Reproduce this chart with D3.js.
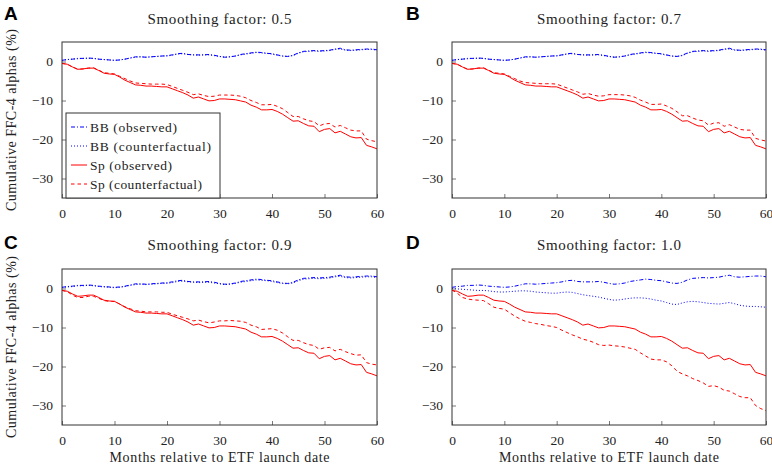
<!DOCTYPE html>
<html><head><meta charset="utf-8">
<script src="https://cdn.jsdelivr.net/npm/d3@7"></script>
<style>body{margin:0;background:#fff}svg{display:block}</style>
</head><body>
<svg id="c" width="772" height="467"></svg>
<script>
const months = d3.range(0, 61);
const xTicks = [0, 10, 20, 30, 40, 50, 60];
const yTicks = [0, -10, -20, -30];
const panelLetters = ["A", "B", "C", "D"];
const smoothing = ["0.5", "0.7", "0.9", "1.0"];
const seriesNames = ["BB (observed)", "BB (counterfactual)", "Sp (observed)", "Sp (counterfactual)"];

const bbObserved = [0.3,0.5,0.6,0.8,0.8,0.9,0.8,0.6,0.5,0.4,0.3,0.4,0.6,0.9,1.2,1.2,1.1,1.2,1.3,1.4,1.5,1.7,2.0,2.1,1.8,1.7,1.7,1.7,1.8,1.6,1.3,1.1,1.2,1.4,1.8,2.0,2.2,2.4,2.3,2.1,2.0,1.7,1.4,1.3,1.6,2.2,2.6,2.7,2.8,2.7,2.8,2.9,3.2,3.4,3.0,2.9,3.0,3.1,3.2,3.2,3.0];
const bbCfA = [0.3,0.5,0.6,0.7,0.8,0.8,0.8,0.6,0.5,0.4,0.3,0.4,0.6,0.9,1.1,1.2,1.1,1.2,1.3,1.4,1.4,1.6,1.9,2.0,1.8,1.7,1.6,1.7,1.7,1.5,1.3,1.1,1.2,1.4,1.7,1.9,2.1,2.3,2.2,2.1,1.9,1.6,1.4,1.3,1.5,2.1,2.5,2.6,2.7,2.6,2.7,2.8,3.1,3.2,2.9,2.8,2.9,3.0,3.1,3.1,2.9];
const bbCfB = [0.3,0.5,0.6,0.7,0.8,0.8,0.8,0.6,0.5,0.4,0.3,0.4,0.6,0.9,1.1,1.2,1.1,1.2,1.3,1.4,1.4,1.6,1.9,2.0,1.8,1.7,1.6,1.7,1.7,1.5,1.3,1.1,1.2,1.4,1.7,1.9,2.1,2.3,2.2,2.1,1.9,1.6,1.4,1.3,1.5,2.1,2.5,2.6,2.7,2.6,2.7,2.8,3.1,3.2,2.9,2.8,2.9,3.0,3.1,3.1,2.9];
const bbCfC = [0.3,0.4,0.5,0.7,0.7,0.8,0.7,0.5,0.4,0.3,0.2,0.3,0.5,0.8,1.0,1.1,1.0,1.1,1.2,1.3,1.3,1.5,1.8,1.9,1.7,1.6,1.5,1.6,1.6,1.4,1.2,1.0,1.1,1.3,1.6,1.8,2.0,2.2,2.1,2.0,1.8,1.5,1.3,1.2,1.4,2.0,2.4,2.5,2.6,2.5,2.6,2.7,3.0,3.1,2.8,2.7,2.8,2.9,3.0,3.0,2.8];
const bbCfD = [0.0,-0.1,-0.2,-0.3,-0.4,-0.5,-0.5,-0.6,-0.8,-0.9,-0.9,-0.8,-0.7,-0.6,-0.6,-0.7,-0.9,-1.0,-1.1,-1.2,-1.2,-1.0,-0.9,-1.0,-1.3,-1.6,-1.8,-2.0,-2.2,-2.5,-2.8,-3.0,-2.9,-2.7,-2.5,-2.4,-2.4,-2.5,-2.7,-3.0,-3.2,-3.6,-4.0,-4.1,-3.7,-3.4,-3.3,-3.4,-3.6,-3.8,-3.9,-4.0,-3.8,-3.6,-3.9,-4.3,-4.5,-4.6,-4.6,-4.7,-4.8];

const spObserved = [-0.5,-0.7,-1.4,-2.0,-1.9,-1.7,-1.7,-2.3,-3.0,-3.2,-3.3,-4.0,-4.8,-5.4,-6.0,-6.1,-6.3,-6.3,-6.4,-6.5,-6.5,-7.0,-7.5,-8.0,-8.6,-9.4,-9.1,-9.6,-10.1,-10.0,-9.6,-9.6,-9.7,-9.8,-10.1,-10.4,-11.2,-11.7,-12.4,-12.4,-12.3,-12.8,-13.5,-14.4,-15.3,-15.2,-15.9,-16.5,-16.6,-18.0,-17.4,-17.2,-18.3,-17.9,-18.6,-19.3,-19.6,-19.5,-21.5,-21.9,-22.4];
const spCfA = [-0.5,-0.7,-1.4,-2.0,-1.9,-1.7,-1.6,-2.2,-2.9,-3.0,-3.2,-3.8,-4.4,-5.0,-5.5,-5.6,-5.7,-5.8,-5.8,-5.8,-5.9,-6.4,-6.9,-7.4,-7.9,-8.5,-8.3,-8.7,-9.0,-8.9,-8.6,-8.6,-8.6,-8.7,-8.9,-9.3,-10.0,-10.5,-11.1,-11.1,-11.0,-11.5,-12.1,-13.1,-14.1,-14.1,-14.7,-15.2,-15.4,-16.5,-16.0,-15.9,-16.8,-16.4,-17.0,-17.6,-17.8,-17.8,-19.9,-20.3,-20.6];
const spCfB = [-0.5,-0.7,-1.4,-2.0,-1.9,-1.7,-1.6,-2.2,-2.9,-3.0,-3.2,-3.8,-4.4,-5.0,-5.4,-5.5,-5.6,-5.7,-5.7,-5.7,-5.8,-6.3,-6.8,-7.3,-7.8,-8.4,-8.2,-8.6,-8.9,-8.8,-8.5,-8.5,-8.5,-8.6,-8.8,-9.2,-9.9,-10.4,-11.0,-11.0,-10.9,-11.4,-12.0,-12.9,-13.9,-13.9,-14.5,-15.0,-15.2,-16.3,-15.8,-15.7,-16.6,-16.2,-16.8,-17.4,-17.6,-17.6,-19.7,-20.1,-20.4];
const spCfC = [-0.5,-0.8,-1.7,-2.3,-2.3,-2.0,-2.0,-2.5,-3.1,-3.3,-3.3,-4.0,-4.7,-5.2,-5.7,-5.8,-6.0,-6.0,-6.0,-6.1,-6.1,-6.6,-7.0,-7.4,-7.8,-8.3,-8.1,-8.5,-8.8,-8.6,-8.3,-8.3,-8.2,-8.3,-8.4,-8.7,-9.4,-9.8,-10.5,-10.4,-10.3,-10.7,-11.4,-12.4,-13.3,-13.3,-13.9,-14.4,-14.6,-15.6,-15.2,-15.1,-16.0,-15.6,-16.2,-16.7,-17.1,-17.0,-19.0,-19.4,-19.6];
const spCfD = [-0.4,-1.2,-2.3,-2.7,-2.9,-3.0,-3.1,-3.9,-4.8,-5.1,-5.3,-6.2,-7.1,-7.8,-8.4,-8.7,-9.0,-9.2,-9.5,-9.7,-10.0,-10.7,-11.3,-11.9,-12.4,-13.0,-13.3,-13.8,-14.4,-14.6,-14.5,-14.7,-14.8,-15.0,-15.3,-15.6,-16.5,-17.3,-18.1,-18.3,-18.3,-18.8,-19.8,-21.2,-21.9,-22.4,-23.1,-23.6,-24.2,-25.1,-24.9,-25.3,-26.1,-26.3,-27.0,-27.7,-28.0,-28.0,-30.0,-30.8,-31.3];

const bbCf = [bbCfA, bbCfB, bbCfC, bbCfD];
const spCf = [spCfA, spCfB, spCfC, spCfD];

const styles = [
  {color: "#0000ff", dash: "4,2,1,2"},
  {color: "#0000ff", dash: "1,2"},
  {color: "#ff0000", dash: null},
  {color: "#ff0000", dash: "3.5,3"}
];
const legendWidths = [87, 121, 82, 112];

const svg = d3.select("#c");
const serif = "'Liberation Serif', 'Times New Roman', serif";
const sans = "'Liberation Sans', Arial, sans-serif";

const panels = [
  {x0: 62, x1: 377, y0: 42, y1: 198, titleY: 24, letterX: 4, letterY: 20, ylab: true, xlab: false, legend: true},
  {x0: 452, x1: 766, y0: 42, y1: 198, titleY: 24, letterX: 406, letterY: 20, ylab: false, xlab: false, legend: false},
  {x0: 62, x1: 377, y0: 269, y1: 425, titleY: 250, letterX: 4, letterY: 249, ylab: true, xlab: true, legend: false},
  {x0: 452, x1: 766, y0: 269, y1: 425, titleY: 250, letterX: 406, letterY: 249, ylab: false, xlab: true, legend: false}
];

panels.forEach((p, i) => {
  const x = d3.scaleLinear().domain([0, 60]).range([p.x0, p.x1]);
  const y = d3.scaleLinear().domain([-35, 5]).range([p.y1, p.y0]);
  const g = svg.append("g");

  const data = [bbObserved, bbCf[i], spObserved, spCf[i]];
  const line = d3.line().x((d, j) => x(months[j])).y(d => y(d));

  const clipId = "clip" + i;
  svg.append("clipPath").attr("id", clipId).append("rect")
    .attr("x", p.x0).attr("y", p.y0).attr("width", p.x1 - p.x0).attr("height", p.y1 - p.y0);

  const lg = g.append("g").attr("clip-path", `url(#${clipId})`);
  data.forEach((arr, k) => {
    lg.append("path").datum(arr).attr("d", line)
      .attr("fill", "none").attr("stroke", styles[k].color)
      .attr("stroke-width", 1)
      .attr("stroke-dasharray", styles[k].dash)
      .attr("stroke-linejoin", "round");
  });

  const xa = g.append("g").attr("transform", `translate(0,${p.y1})`)
    .call(d3.axisBottom(x).tickValues(xTicks).tickSizeInner(-4).tickSizeOuter(0).tickPadding(10).tickFormat(d3.format("d")));
  const ya = g.append("g").attr("transform", `translate(${p.x0},0)`)
    .call(d3.axisLeft(y).tickValues(yTicks).tickSizeInner(-4).tickSizeOuter(0).tickPadding(9).tickFormat(d3.format("d")));
  [xa, ya].forEach(a => {
    a.select(".domain").remove();
    a.selectAll(".tick line").attr("stroke", "#555").attr("stroke-width", 0.8);
    a.selectAll(".tick text").attr("font-family", serif).attr("font-size", 13.5).attr("fill", "#222");
  });

  g.append("rect").attr("x", p.x0).attr("y", p.y0).attr("width", p.x1 - p.x0).attr("height", p.y1 - p.y0)
    .attr("fill", "none").attr("stroke", "#333").attr("stroke-width", 1);

  g.append("text").attr("x", (p.x0 + p.x1) / 2).attr("y", p.titleY).attr("text-anchor", "middle")
    .attr("font-family", serif).attr("font-size", 15).attr("fill", "#222")
    .attr("textLength", 144).attr("lengthAdjust", "spacing")
    .text("Smoothing factor: " + smoothing[i]);

  g.append("text").attr("x", p.letterX).attr("y", p.letterY)
    .attr("font-family", sans).attr("font-weight", "bold").attr("font-size", 19).attr("fill", "#000")
    .text(panelLetters[i]);

  if (p.ylab) {
    g.append("text").attr("transform", `translate(16,${(p.y0 + p.y1) / 2}) rotate(-90)`)
      .attr("text-anchor", "middle").attr("font-family", serif).attr("font-size", 14).attr("fill", "#222")
      .attr("textLength", 182).attr("lengthAdjust", "spacing")
      .text("Cumulative FFC-4 alphas (%)");
  }
  if (p.xlab) {
    g.append("text").attr("x", (p.x0 + p.x1) / 2).attr("y", p.y1 + 37).attr("text-anchor", "middle")
      .attr("font-family", serif).attr("font-size", 14).attr("fill", "#222")
      .attr("textLength", 220).attr("lengthAdjust", "spacing")
      .text("Months relative to ETF launch date");
  }
  if (p.legend) {
    const L = g.append("g");
    L.append("rect").attr("x", 66).attr("y", 113).attr("width", 154).attr("height", p.y1 - 113)
      .attr("fill", "#fff").attr("stroke", "#333").attr("stroke-width", 1);
    seriesNames.forEach((name, k) => {
      const cy = 127 + k * 19;
      L.append("line").attr("x1", 71).attr("x2", 87).attr("y1", cy).attr("y2", cy)
        .attr("stroke", styles[k].color).attr("stroke-width", 1).attr("stroke-dasharray", styles[k].dash);
      L.append("text").attr("x", 90).attr("y", cy + 4.5)
        .attr("font-family", serif).attr("font-size", 13.5).attr("fill", "#222")
        .attr("textLength", legendWidths[k]).attr("lengthAdjust", "spacing")
        .text(name);
    });
  }
});
</script>
</body></html>
